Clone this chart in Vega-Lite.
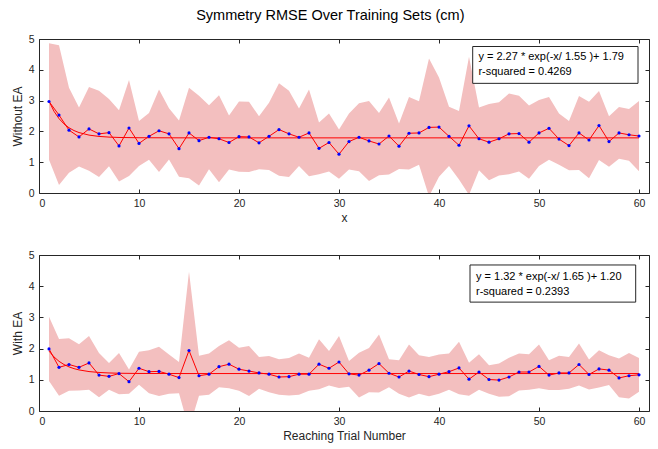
{
  "$schema": "https://vega.github.io/schema/vega-lite/v6.json",
  "padding": {"left": 10, "top": 8, "right": 4, "bottom": 2},
  "title": {"text": "Symmetry RMSE Over Training Sets (cm)", "fontSize": 14.5, "fontWeight": "normal", "font": "Liberation Sans", "color": "#000000", "anchor": "middle", "offset": 10},
  "config": {
    "font": "Liberation Sans",
    "view": {"stroke": "#262626", "strokeWidth": 1},
    "axis": {"grid": false, "domain": false, "tickColor": "#262626", "tickSize": -4, "tickWidth": 1, "labelColor": "#262626", "labelFontSize": 10.5, "labelFont": "Liberation Sans", "titleFont": "Liberation Sans", "titleFontSize": 12, "titleFontWeight": "normal", "titleColor": "#262626", "labelPadding": 9, "titlePadding": 4}
  },
  "spacing": 25,
  "datasets": {
    "noEA": [
      {"x":1,"m":2.97,"hi":4.86,"lo":1.08},{"x":2,"m":2.53,"hi":4.80,"lo":0.26},{"x":3,"m":2.04,"hi":3.42,"lo":0.66},{"x":4,"m":1.82,"hi":2.78,"lo":0.86},{"x":5,"m":2.08,"hi":3.44,"lo":0.72},
      {"x":6,"m":1.92,"hi":3.32,"lo":0.52},{"x":7,"m":1.96,"hi":3.05,"lo":0.87},{"x":8,"m":1.53,"hi":2.69,"lo":0.37},{"x":9,"m":2.11,"hi":3.67,"lo":0.55},{"x":10,"m":1.61,"hi":2.34,"lo":0.88},
      {"x":11,"m":1.84,"hi":2.60,"lo":1.08},{"x":12,"m":2.02,"hi":3.36,"lo":0.68},{"x":13,"m":1.92,"hi":2.75,"lo":1.09},{"x":14,"m":1.44,"hi":2.35,"lo":0.53},{"x":15,"m":1.95,"hi":3.42,"lo":0.48},
      {"x":16,"m":1.70,"hi":3.16,"lo":0.24},{"x":17,"m":1.81,"hi":2.85,"lo":0.77},{"x":18,"m":1.76,"hi":3.17,"lo":0.35},{"x":19,"m":1.64,"hi":2.52,"lo":0.76},{"x":20,"m":1.83,"hi":2.97,"lo":0.69},
      {"x":21,"m":1.82,"hi":2.96,"lo":0.68},{"x":22,"m":1.63,"hi":2.49,"lo":0.77},{"x":23,"m":1.84,"hi":2.93,"lo":0.75},{"x":24,"m":2.06,"hi":3.56,"lo":0.56},{"x":25,"m":1.92,"hi":3.32,"lo":0.52},
      {"x":26,"m":1.81,"hi":2.74,"lo":0.88},{"x":27,"m":1.95,"hi":3.36,"lo":0.54},{"x":28,"m":1.45,"hi":2.29,"lo":0.61},{"x":29,"m":1.64,"hi":2.58,"lo":0.70},{"x":30,"m":1.26,"hi":2.06,"lo":0.46},
      {"x":31,"m":1.67,"hi":2.58,"lo":0.76},{"x":32,"m":1.81,"hi":2.91,"lo":0.71},{"x":33,"m":1.69,"hi":2.99,"lo":0.39},{"x":34,"m":1.59,"hi":2.60,"lo":0.58},{"x":35,"m":1.85,"hi":3.10,"lo":0.60},
      {"x":36,"m":1.52,"hi":2.26,"lo":0.78},{"x":37,"m":1.94,"hi":3.12,"lo":0.76},{"x":38,"m":1.95,"hi":2.98,"lo":0.92},{"x":39,"m":2.13,"hi":4.37,"lo":-0.11},{"x":40,"m":2.14,"hi":3.75,"lo":0.53},
      {"x":41,"m":1.84,"hi":2.80,"lo":0.88},{"x":42,"m":1.55,"hi":2.66,"lo":0.44},{"x":43,"m":2.18,"hi":4.42,"lo":-0.06},{"x":44,"m":1.76,"hi":2.78,"lo":0.74},{"x":45,"m":1.65,"hi":2.89,"lo":0.41},
      {"x":46,"m":1.76,"hi":2.95,"lo":0.57},{"x":47,"m":1.92,"hi":3.23,"lo":0.61},{"x":48,"m":1.93,"hi":3.16,"lo":0.70},{"x":49,"m":1.65,"hi":2.84,"lo":0.46},{"x":50,"m":1.95,"hi":3.02,"lo":0.88},
      {"x":51,"m":2.10,"hi":3.12,"lo":1.08},{"x":52,"m":1.75,"hi":2.58,"lo":0.92},{"x":53,"m":1.54,"hi":2.34,"lo":0.74},{"x":54,"m":1.95,"hi":3.15,"lo":0.75},{"x":55,"m":1.72,"hi":2.96,"lo":0.48},
      {"x":56,"m":2.19,"hi":3.31,"lo":1.07},{"x":57,"m":1.67,"hi":2.49,"lo":0.85},{"x":58,"m":1.95,"hi":2.79,"lo":1.11},{"x":59,"m":1.89,"hi":2.73,"lo":1.05},{"x":60,"m":1.85,"hi":2.99,"lo":0.71}
    ],
    "withEA": [
      {"x":1,"m":1.99,"hi":3.02,"lo":0.96},{"x":2,"m":1.40,"hi":2.31,"lo":0.49},{"x":3,"m":1.49,"hi":2.33,"lo":0.65},{"x":4,"m":1.40,"hi":2.14,"lo":0.66},{"x":5,"m":1.54,"hi":2.40,"lo":0.68},
      {"x":6,"m":1.15,"hi":1.86,"lo":0.44},{"x":7,"m":1.11,"hi":1.54,"lo":0.68},{"x":8,"m":1.20,"hi":1.86,"lo":0.54},{"x":9,"m":0.94,"hi":1.33,"lo":0.55},{"x":10,"m":1.37,"hi":1.90,"lo":0.84},
      {"x":11,"m":1.26,"hi":1.95,"lo":0.57},{"x":12,"m":1.27,"hi":2.06,"lo":0.48},{"x":13,"m":1.18,"hi":1.81,"lo":0.55},{"x":14,"m":1.07,"hi":1.57,"lo":0.57},{"x":15,"m":1.94,"hi":4.46,"lo":-0.58},
      {"x":16,"m":1.13,"hi":1.77,"lo":0.49},{"x":17,"m":1.18,"hi":1.84,"lo":0.52},{"x":18,"m":1.42,"hi":2.08,"lo":0.76},{"x":19,"m":1.50,"hi":2.27,"lo":0.73},{"x":20,"m":1.34,"hi":2.03,"lo":0.65},
      {"x":21,"m":1.28,"hi":2.08,"lo":0.48},{"x":22,"m":1.22,"hi":1.73,"lo":0.71},{"x":23,"m":1.18,"hi":1.76,"lo":0.60},{"x":24,"m":1.09,"hi":1.66,"lo":0.52},{"x":25,"m":1.10,"hi":1.70,"lo":0.50},
      {"x":26,"m":1.18,"hi":1.84,"lo":0.52},{"x":27,"m":1.18,"hi":1.71,"lo":0.65},{"x":28,"m":1.50,"hi":2.30,"lo":0.70},{"x":29,"m":1.37,"hi":1.92,"lo":0.82},{"x":30,"m":1.57,"hi":2.40,"lo":0.74},
      {"x":31,"m":1.19,"hi":1.60,"lo":0.78},{"x":32,"m":1.15,"hi":1.87,"lo":0.43},{"x":33,"m":1.31,"hi":2.02,"lo":0.60},{"x":34,"m":1.52,"hi":2.45,"lo":0.59},{"x":35,"m":1.21,"hi":1.66,"lo":0.76},
      {"x":36,"m":1.09,"hi":1.63,"lo":0.55},{"x":37,"m":1.28,"hi":2.13,"lo":0.43},{"x":38,"m":1.17,"hi":1.79,"lo":0.55},{"x":39,"m":1.10,"hi":1.73,"lo":0.47},{"x":40,"m":1.18,"hi":1.81,"lo":0.55},
      {"x":41,"m":1.26,"hi":1.84,"lo":0.68},{"x":42,"m":1.38,"hi":2.22,"lo":0.54},{"x":43,"m":1.02,"hi":1.55,"lo":0.49},{"x":44,"m":1.25,"hi":1.82,"lo":0.68},{"x":45,"m":1.01,"hi":1.47,"lo":0.55},
      {"x":46,"m":0.99,"hi":1.52,"lo":0.46},{"x":47,"m":1.09,"hi":1.71,"lo":0.47},{"x":48,"m":1.25,"hi":1.84,"lo":0.66},{"x":49,"m":1.25,"hi":1.82,"lo":0.68},{"x":50,"m":1.43,"hi":2.13,"lo":0.73},
      {"x":51,"m":1.15,"hi":1.63,"lo":0.67},{"x":52,"m":1.22,"hi":1.77,"lo":0.67},{"x":53,"m":1.22,"hi":1.73,"lo":0.71},{"x":54,"m":1.49,"hi":2.16,"lo":0.82},{"x":55,"m":1.17,"hi":1.65,"lo":0.69},
      {"x":56,"m":1.35,"hi":1.95,"lo":0.75},{"x":57,"m":1.31,"hi":1.79,"lo":0.83},{"x":58,"m":1.06,"hi":1.68,"lo":0.44},{"x":59,"m":1.13,"hi":1.86,"lo":0.40},{"x":60,"m":1.16,"hi":1.70,"lo":0.62}
    ],
    "fitNo": [
      {"x":1,"f":2.981},{"x":1.5,"f":2.653},{"x":2,"f":2.415},{"x":2.5,"f":2.243},{"x":3,"f":2.118},{"x":3.5,"f":2.027},{"x":4,"f":1.962},{"x":5,"f":1.880},{"x":6,"f":1.837},{"x":7,"f":1.815},{"x":8,"f":1.803},{"x":10,"f":1.794},{"x":15,"f":1.790},{"x":60,"f":1.790}
    ],
    "fitWith": [
      {"x":1,"f":1.920},{"x":1.5,"f":1.732},{"x":2,"f":1.593},{"x":2.5,"f":1.490},{"x":3,"f":1.414},{"x":3.5,"f":1.358},{"x":4,"f":1.317},{"x":5,"f":1.264},{"x":6,"f":1.235},{"x":7,"f":1.219},{"x":8,"f":1.210},{"x":10,"f":1.203},{"x":15,"f":1.200},{"x":60,"f":1.200}
    ],
    "boxNo": [{"x1":43.37,"x2":59.9,"y1":3.56,"y2":4.756}],
    "boxWith": [{"x1":43.1,"x2":59.67,"y1":3.49,"y2":4.68}],
    "txtNo": [{"x":43.94,"y":4.41,"t":"y = 2.27 * exp(-x/ 1.55 )+ 1.79"},{"x":43.94,"y":3.92,"t":"r-squared = 0.4269"}],
    "txtWith": [{"x":43.7,"y":4.28,"t":"y = 1.32 * exp(-x/ 1.65 )+ 1.20"},{"x":43.7,"y":3.83,"t":"r-squared = 0.2393"}]
  },
  "vconcat": [
    {
      "width": 610, "height": 154,
      "resolve": {"axis": {"x": "independent", "y": "independent"}},
      "layer": [
        {"data": {"name": "noEA"}, "mark": {"type": "area", "color": "#f3bfbf", "opacity": 1, "clip": true},
         "encoding": {
           "x": {"field": "x", "type": "quantitative", "scale": {"domain": [0, 61], "nice": false, "zero": false}, "axis": {"orient": "bottom", "values": [0,10,20,30,40,50,60], "title": "x"}},
           "y": {"field": "lo", "type": "quantitative", "scale": {"domain": [0, 5], "nice": false}, "axis": {"orient": "left", "values": [0,1,2,3,4,5], "title": "Without EA"}},
           "y2": {"field": "hi"}}},
        {"data": {"name": "fitNo"}, "mark": {"type": "line", "color": "#ff0000", "strokeWidth": 1, "clip": true},
         "encoding": {
           "x": {"field": "x", "type": "quantitative", "axis": {"orient": "top", "values": [0,10,20,30,40,50,60], "labels": false, "title": null}},
           "y": {"field": "f", "type": "quantitative", "axis": {"orient": "right", "values": [0,1,2,3,4,5], "labels": false, "title": null}}}},
        {"data": {"name": "noEA"}, "mark": {"type": "line", "color": "#ff0000", "strokeWidth": 1},
         "encoding": {
           "x": {"field": "x", "type": "quantitative", "axis": null},
           "y": {"field": "m", "type": "quantitative", "axis": null}}},
        {"data": {"name": "noEA"}, "mark": {"type": "point", "filled": true, "color": "#0000ff", "size": 10, "opacity": 1},
         "encoding": {
           "x": {"field": "x", "type": "quantitative", "axis": null},
           "y": {"field": "m", "type": "quantitative", "axis": null}}},
        {"data": {"name": "boxNo"}, "mark": {"type": "rect", "fill": "#ffffff", "stroke": "#262626", "strokeWidth": 1},
         "encoding": {
           "x": {"field": "x1", "type": "quantitative", "axis": null}, "x2": {"field": "x2"},
           "y": {"field": "y1", "type": "quantitative", "axis": null}, "y2": {"field": "y2"}}},
        {"data": {"name": "txtNo"}, "mark": {"type": "text", "align": "left", "baseline": "middle", "fontSize": 11, "font": "Liberation Sans", "color": "#000000"},
         "encoding": {
           "x": {"field": "x", "type": "quantitative", "axis": null},
           "y": {"field": "y", "type": "quantitative", "axis": null},
           "text": {"field": "t"}}}
      ]
    },
    {
      "width": 610, "height": 156,
      "resolve": {"axis": {"x": "independent", "y": "independent"}},
      "layer": [
        {"data": {"name": "withEA"}, "mark": {"type": "area", "color": "#f3bfbf", "opacity": 1, "clip": true},
         "encoding": {
           "x": {"field": "x", "type": "quantitative", "scale": {"domain": [0, 61], "nice": false, "zero": false}, "axis": {"orient": "bottom", "values": [0,10,20,30,40,50,60], "title": "Reaching Trial Number"}},
           "y": {"field": "lo", "type": "quantitative", "scale": {"domain": [0, 5], "nice": false}, "axis": {"orient": "left", "values": [0,1,2,3,4,5], "title": "With EA"}},
           "y2": {"field": "hi"}}},
        {"data": {"name": "fitWith"}, "mark": {"type": "line", "color": "#ff0000", "strokeWidth": 1, "clip": true},
         "encoding": {
           "x": {"field": "x", "type": "quantitative", "axis": {"orient": "top", "values": [0,10,20,30,40,50,60], "labels": false, "title": null}},
           "y": {"field": "f", "type": "quantitative", "axis": {"orient": "right", "values": [0,1,2,3,4,5], "labels": false, "title": null}}}},
        {"data": {"name": "withEA"}, "mark": {"type": "line", "color": "#ff0000", "strokeWidth": 1},
         "encoding": {
           "x": {"field": "x", "type": "quantitative", "axis": null},
           "y": {"field": "m", "type": "quantitative", "axis": null}}},
        {"data": {"name": "withEA"}, "mark": {"type": "point", "filled": true, "color": "#0000ff", "size": 10, "opacity": 1},
         "encoding": {
           "x": {"field": "x", "type": "quantitative", "axis": null},
           "y": {"field": "m", "type": "quantitative", "axis": null}}},
        {"data": {"name": "boxWith"}, "mark": {"type": "rect", "fill": "#ffffff", "stroke": "#262626", "strokeWidth": 1},
         "encoding": {
           "x": {"field": "x1", "type": "quantitative", "axis": null}, "x2": {"field": "x2"},
           "y": {"field": "y1", "type": "quantitative", "axis": null}, "y2": {"field": "y2"}}},
        {"data": {"name": "txtWith"}, "mark": {"type": "text", "align": "left", "baseline": "middle", "fontSize": 11, "font": "Liberation Sans", "color": "#000000"},
         "encoding": {
           "x": {"field": "x", "type": "quantitative", "axis": null},
           "y": {"field": "y", "type": "quantitative", "axis": null},
           "text": {"field": "t"}}}
      ]
    }
  ]
}
